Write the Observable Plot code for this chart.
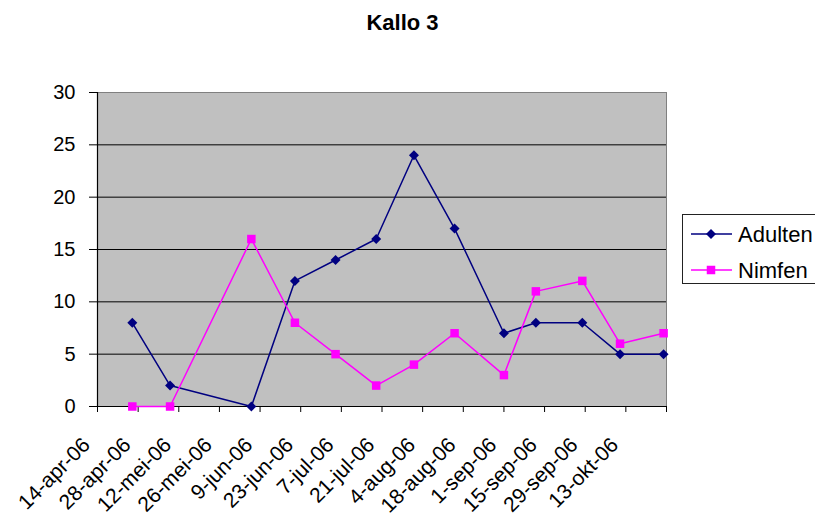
<!DOCTYPE html>
<html>
<head>
<meta charset="utf-8">
<script src="https://cdn.jsdelivr.net/npm/d3@7"></script>
<script src="https://cdn.jsdelivr.net/npm/@observablehq/plot@0.6"></script>
<style>
  html, body { margin: 0; background: #fff; font-family: "Liberation Sans", Arial, sans-serif; overflow: hidden; }
  #wrap { position: relative; width: 815px; height: 520px; overflow: hidden; }
  #title { position: absolute; left: 0; width: 805px; top: 10px; text-align: center; font-weight: bold; font-size: 22px; }
  #legend { position: absolute; left: 682px; top: 214px; width: 150px; height: 70px; border: 1px solid #222; background: #fff; box-sizing: border-box; }
</style>
</head>
<body>
<div id="wrap">
  <div id="chart"></div>
  <div id="title">Kallo 3</div>
  <div id="legend"></div>
</div>
<script>
// ---- data ----
const seriesNames = ["Adulten", "Nimfen"];
const sampleDates = ["2006-04-26","2006-05-09","2006-06-06","2006-06-21","2006-07-05","2006-07-19","2006-08-01","2006-08-15","2006-09-01","2006-09-12","2006-09-28","2006-10-11","2006-10-26"];
const adulten = [8, 2, 0, 12, 14, 16, 24, 17, 7, 8, 8, 5, 5];
const nimfen  = [0, 0, 16, 8, 5, 2, 4, 7, 3, 11, 12, 6, 7];
const tickDates = ["2006-04-14","2006-04-28","2006-05-12","2006-05-26","2006-06-09","2006-06-23","2006-07-07","2006-07-21","2006-08-04","2006-08-18","2006-09-01","2006-09-15","2006-09-29","2006-10-13"];
const tickLabels = ["14-apr-06","28-apr-06","12-mei-06","26-mei-06","9-jun-06","23-jun-06","7-jul-06","21-jul-06","4-aug-06","18-aug-06","1-sep-06","15-sep-06","29-sep-06","13-okt-06"];
const domainEnd = "2006-10-27";
const yTicks = [0, 5, 10, 15, 20, 25, 30];
const gridValues = [5, 10, 15, 20, 25];
const colors = {Adulten: "#000080", Nimfen: "#FF00FF"};
const symbols = {Adulten: "diamond2", Nimfen: "square"};

// ---- build ----
const parse = s => new Date(s + "T00:00:00Z");
const rows = [];
sampleDates.forEach((d, i) => {
  rows.push({date: parse(d), value: adulten[i], series: "Adulten"});
  rows.push({date: parse(d), value: nimfen[i], series: "Nimfen"});
});
const ticks = tickDates.map((d, i) => ({date: parse(d), label: tickLabels[i]}));
const adRows = rows.filter(r => r.series === "Adulten");
const niRows = rows.filter(r => r.series === "Nimfen");

const font = "Liberation Sans, Arial, sans-serif";
const chart = Plot.plot({
  width: 815,
  height: 520,
  marginTop: 92,
  marginLeft: 97,
  marginRight: 149,
  marginBottom: 114,
  style: {fontFamily: font, fontSize: "20px", background: "white", color: "black", overflow: "visible"},
  x: {type: "utc", domain: [parse(tickDates[0]), parse(domainEnd)], axis: null},
  y: {domain: [0, 30], axis: null},
  marks: [
    Plot.frame({fill: "#C0C0C0", stroke: "#808080"}),
    Plot.ruleY(gridValues, {stroke: "black", strokeWidth: 1}),
    Plot.ruleY([0], {stroke: "black", strokeWidth: 1.2}),
    Plot.ruleX([parse(tickDates[0])], {stroke: "black", strokeWidth: 1.2}),
    Plot.axisY({ticks: yTicks, label: null, tickSize: 8, tickPadding: 14, fontSize: 20, stroke: "black"}),
    Plot.axisX({ticks: [...ticks.map(t => t.date), parse(domainEnd)], label: null, tickSize: 6, tickFormat: () => "", stroke: "black"}),
    Plot.text(ticks, {x: "date", text: "label", frameAnchor: "bottom", rotate: -45, textAnchor: "end", lineAnchor: "middle", dx: -11, dy: 35, fontSize: 21, fill: "black"}),
    Plot.line(adRows, {x: "date", y: "value", stroke: colors.Adulten, strokeWidth: 1.5}),
    Plot.line(niRows, {x: "date", y: "value", stroke: colors.Nimfen, strokeWidth: 1.5}),
    Plot.dot(adRows, {x: "date", y: "value", symbol: symbols.Adulten, fill: colors.Adulten, stroke: "none", r: 4.5}),
    Plot.dot(niRows, {x: "date", y: "value", symbol: symbols.Nimfen, fill: colors.Nimfen, stroke: "none", r: 4.8})
  ]
});
document.getElementById("chart").appendChild(chart);

// legend
const lsvg = d3.create("svg").attr("width", 150).attr("height", 70).style("overflow", "visible").style("display", "block");
seriesNames.forEach((name, i) => {
  const cy = 19 + i * 36;
  const g = lsvg.append("g");
  g.append("line").attr("x1", 8).attr("x2", 49).attr("y1", cy).attr("y2", cy).attr("stroke", colors[name]).attr("stroke-width", 1.5);
  const sym = name === "Adulten" ? d3.symbolDiamond2 : d3.symbolSquare;
  const size = name === "Adulten" ? Math.PI * 4.5 * 4.5 : Math.PI * 4.8 * 4.8;
  g.append("path").attr("d", d3.symbol(sym, size)()).attr("transform", `translate(28,${cy})`).attr("fill", colors[name]);
  g.append("text").attr("x", 55).attr("y", cy).attr("dy", "0.35em").attr("font-size", 22).attr("font-family", font).text(name);
});
document.getElementById("legend").appendChild(lsvg.node());
</script>
</body>
</html>
